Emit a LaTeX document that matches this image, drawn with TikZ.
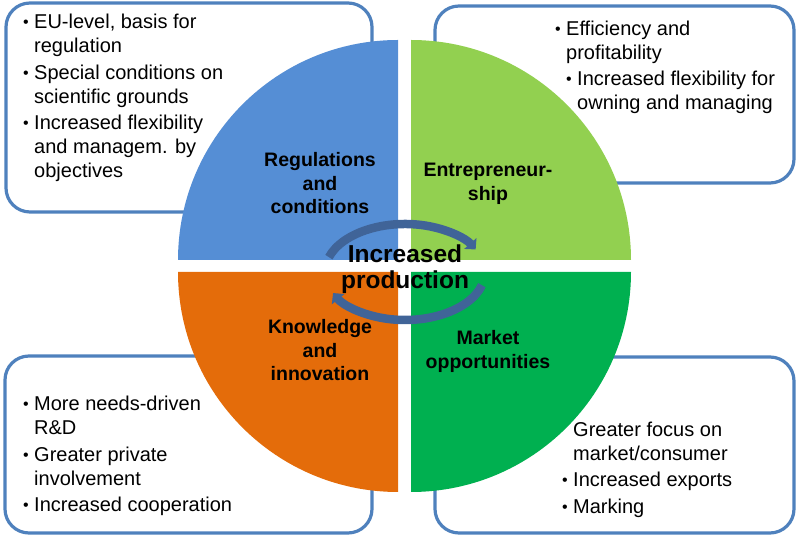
\documentclass[tikz,border=0pt]{standalone}
\usepackage{fontspec}
\setmainfont{Liberation Sans}
\usetikzlibrary{arrows.meta}
\definecolor{qblue}{RGB}{85,142,213}
\definecolor{qlgreen}{RGB}{146,208,80}
\definecolor{qorange}{RGB}{228,108,10}
\definecolor{qgreen}{RGB}{0,176,80}
\definecolor{boxline}{RGB}{79,129,189}
\definecolor{arrowc}{RGB}{64,100,152}
\newcommand\bitem[1]{\begin{tabular}[t]{@{}p{11pt}@{}l@{}}\raisebox{1pt}{\scalebox{0.8}{\textbullet}} & #1\end{tabular}}
\newcommand\ctext[1]{\begin{tabular}[t]{@{}c@{}}#1\end{tabular}}
\begin{document}
\begin{tikzpicture}[x=1pt,y=1pt,
  infobox/.style={draw=boxline,line width=3.2pt,rounded corners=24pt,fill=white},
  bodytext/.style={anchor=base west,inner sep=0pt,font=\fontsize{20}{24}\selectfont},
  quadlabel/.style={anchor=base,inner sep=0pt,font=\fontsize{19.5}{23.3}\selectfont\bfseries},
  cyclearrow/.style={draw=arrowc,line width=8.5pt,-{Triangle[width=16pt,length=8pt]}}]
\useasboundingbox (0,0) rectangle (796,535);
% boxes
\draw[infobox] (6,323) rectangle (372,532);
\draw[infobox] (435,352) rectangle (794,529);
\draw[infobox] (5,2) rectangle (372,179);
\draw[infobox] (435,2) rectangle (794,178);
% quadrants
\fill[qblue] (398,275) -- (178,275) arc[start angle=180,end angle=90,radius=220] -- cycle;
\fill[qlgreen] (411,275) -- (411,495) arc[start angle=90,end angle=0,radius=220] -- cycle;
\fill[qorange] (398,263) -- (178,263) arc[start angle=180,end angle=270,radius=220] -- cycle;
\fill[qgreen] (411,263) -- (631,263) arc[start angle=0,end angle=-90,radius=220] -- cycle;
% cycle arrows
\coordinate (cc) at (405,263);
\draw[cyclearrow] (cc) ++(162:80 and 48) arc[start angle=162,end angle=28,x radius=80,y radius=48];
\draw[cyclearrow] (cc) ++(-16:80 and 48) arc[start angle=-16,end angle=-154,x radius=80,y radius=48];
% center text
\node[anchor=base,inner sep=0pt,font=\fontsize{24.5}{25}\selectfont\bfseries] (center) at (405,272) {\ctext{Increased\\production}};
% quadrant labels
\node[quadlabel] (reg) at (320,368) {\ctext{Regulations\\and\\conditions}};
\node[quadlabel] (ent) at (488,358) {\ctext{Entrepreneur-\\ship}};
\node[quadlabel] (kno) at (320,201) {\ctext{Knowledge\\and\\innovation}};
\node[quadlabel] (mar) at (488,190) {\ctext{Market\\opportunities}};
% top-left text
\node[bodytext] (tl1) at (23,506) {\bitem{EU-level, basis for\\ & regulation}};
\node[bodytext] (tl2) at (23,455) {\bitem{Special conditions on\\ & scientific grounds}};
\node[bodytext] (tl3) at (23,405) {\bitem{Increased flexibility\\ & and managem. by\\ & objectives}};
% top-right text
\node[bodytext] (tr1) at (555,499) {\bitem{Efficiency and\\ & profitability}};
\node[bodytext] (tr2) at (566,449) {\bitem{Increased flexibility for\\ & owning and managing}};
% bottom-left text
\node[bodytext] (bl1) at (23,124) {\bitem{More needs-driven\\ & R\&D}};
\node[bodytext] (bl2) at (23,73) {\bitem{Greater private\\ & involvement}};
\node[bodytext] (bl3) at (23,23) {\bitem{Increased cooperation}};
% bottom-right text
\node[bodytext] (br0) at (573,98) {\begin{tabular}[t]{@{}l@{}}Greater focus on\\market/consumer\end{tabular}};
\node[bodytext] (br1) at (562,48) {\bitem{Increased exports}};
\node[bodytext] (br2) at (562,21) {\bitem{Marking}};
\end{tikzpicture}
\end{document}
